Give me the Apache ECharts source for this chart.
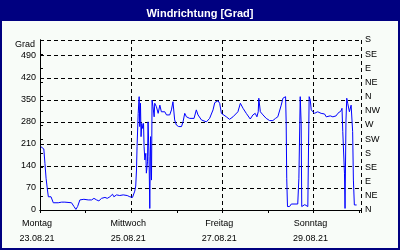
<!DOCTYPE html>
<html>
<head>
<meta charset="utf-8">
<script src="https://cdn.jsdelivr.net/npm/echarts@6/dist/echarts.min.js"></script>
<style>
  html, body { margin: 0; padding: 0; }
  #frame { position: absolute; left: 0; top: 0; width: 400px; height: 250px; background: #000080; }
  #inner { position: absolute; left: 2px; top: 21px; width: 396px; height: 227px; background: #f8fcf8; }
  #chart { position: absolute; left: 0; top: 0; width: 400px; height: 250px; }
</style>
</head>
<body>
<div id="frame"><div id="inner"></div></div>
<div id="chart"></div>
<script>
// Time in hours since Montag 23.08.21 00:00
const hours = [0.5,1,2,2.6,3.2,3.8,4.4,5.8,7,9.6,10.5,11.4,13.1,14,16.6,17.9,18.9,19.8,21,21.9,23.1,25.4,27.2,28.4,29.8,31,32.4,34.2,35.4,36.8,38.2,38.9,40.3,42,43.8,45.9,47.3,48.7,49.3,49.9,50.4,50.8,51.1,51.7,52.2,52.5,52.9,53.2,53.6,54.1,54.5,54.8,55.2,55.7,56,56.6,56.9,57.4,57.8,58.2,58.7,59,59.5,60.1,60.4,61.3,62.2,63.1,63.9,64.8,65.7,66.6,67.4,68.3,69.2,70,70.9,71.8,73,74.5,75.3,76.2,77.1,77.9,78.8,79.7,81.1,82.3,83.2,84.1,85,85.8,87.6,89.3,91.1,92,93.7,94.6,95.5,96.3,98.1,99.8,101.6,102.5,104.2,105.5,106.9,108.6,109.5,110.7,112.1,113.3,114.2,114.9,115.2,116,117.4,119.1,120.9,122.6,124,125.2,126.1,127,127.9,128.8,129.3,129.6,129.9,130.3,131.4,132.3,135.7,136.3,136.6,137,137.5,137.8,138.7,139.4,140.4,141,141.4,141.7,142.3,142.8,143.6,144.5,146.2,148,149.8,150.7,151.5,152.8,154.2,155,155.9,156.8,158.5,159,159.4,159.7,160.3,160.6,161.1,161.5,162,162.9,163.8,164.1,164.6,165,165.5,166.7];
const degrees = [201,196,194,148,101,70,42,42,23,23,19,25,25,23,23,11,2,11,32,29,34,32,32,37,32,29,37,40,37,42,50,42,48,46,48,46,42,40,46,60,76,127,201,307,360,265,339,233,275,259,275,201,159,180,117,153,280,169,5,233,95,349,328,296,339,328,307,333,312,307,312,302,307,302,318,344,286,270,265,265,280,307,296,302,291,296,291,318,302,302,286,280,280,291,318,341,347,339,307,302,296,288,296,302,312,339,323,307,302,289,302,307,296,312,355,312,302,291,284,284,291,296,302,333,355,360,360,280,101,11,11,19,19,101,104,360,275,11,11,17,13,11,5,360,349,318,315,307,312,307,305,296,291,299,296,302,299,307,315,323,249,244,117,5,286,355,339,312,333,328,249,95,16,16];

const dayHours = [0, 48, 96, 144];
const dayNames = ['Montag', 'Mittwoch', 'Freitag', 'Sonntag'];
const dayDates = ['23.08.21', '25.08.21', '27.08.21', '29.08.21'];
const leftTicks = [0, 70, 140, 210, 280, 350, 420, 490];
const compassLabels = ['N','NE','E','SE','S','SW','W','NW','N','NE','E','SE','S'];

const seriesData = hours.map((h, i) => [h, degrees[i]]);
const font = 'Liberation Sans, Arial, sans-serif';
const dash = { color: '#000', width: 1, type: [4, 3] };

const chart = echarts.init(document.getElementById('chart'), null, { renderer: 'canvas' });
chart.setOption({
  animation: false,
  backgroundColor: 'transparent',
  title: {
    text: 'Windrichtung [Grad]',
    left: 'center', top: 3,
    textStyle: { color: '#fff', fontSize: 11, fontWeight: 'bold', fontFamily: font }
  },
  grid: { left: 40, right: 39, top: 40, bottom: 40, containLabel: false },
  xAxis: [
    {
      type: 'value', position: 'bottom', min: 0, max: 169, interval: 24,
      axisLine: { show: true, lineStyle: { color: '#000', width: 1 } },
      axisTick: { show: true, inside: false, length: 3, lineStyle: { color: '#000' } },
      splitLine: { show: false },
      axisLabel: {
        show: true, margin: 6, fontSize: 9, lineHeight: 15, color: '#000', fontFamily: font,
        padding: [0, 6, 0, 0], showMinLabel: true, showMaxLabel: true, hideOverlap: false,
        formatter: function (v) {
          const i = dayHours.indexOf(v);
          return i >= 0 ? dayNames[i] + '\n' + dayDates[i] : '';
        }
      }
    },
    {
      type: 'value', position: 'top', min: 0, max: 169, interval: 48,
      axisLine: { show: true, lineStyle: { color: '#000', width: 1 } },
      axisTick: { show: false }, axisLabel: { show: false },
      splitLine: { show: true, lineStyle: dash }
    }
  ],
  yAxis: [
    {
      type: 'value', position: 'left', min: 0, max: 540, interval: 70,
      name: 'Grad', nameLocation: 'end', nameGap: -5,
      nameTextStyle: { align: 'right', verticalAlign: 'middle', padding: [0, 5, 0, 0], fontSize: 9, color: '#000', fontFamily: font },
      axisLine: { show: true, lineStyle: { color: '#000', width: 1 } },
      axisTick: { show: false },
      splitLine: { show: true, lineStyle: dash },
      axisLabel: {
        margin: 4, fontSize: 9, color: '#000', fontFamily: font,
        formatter: function (v) { return leftTicks.indexOf(v) >= 0 ? String(v) : ''; }
      }
    },
    {
      type: 'value', position: 'right', min: 0, max: 540, interval: 45,
      axisLine: { show: true, lineStyle: { color: '#000', width: 1 } },
      axisTick: { show: true, inside: false, length: 3, lineStyle: { color: '#000' } },
      splitLine: { show: false },
      axisLabel: {
        margin: 4, fontSize: 9, color: '#000', fontFamily: font,
        formatter: function (v) { return compassLabels[Math.round(v / 45)] || ''; }
      }
    }
  ],
  series: [{
    type: 'line', xAxisIndex: 0, yAxisIndex: 0,
    data: seriesData, showSymbol: false, symbol: 'none',
    lineStyle: { color: '#0000ff', width: 1 }
  }]
});
</script>
</body>
</html>
